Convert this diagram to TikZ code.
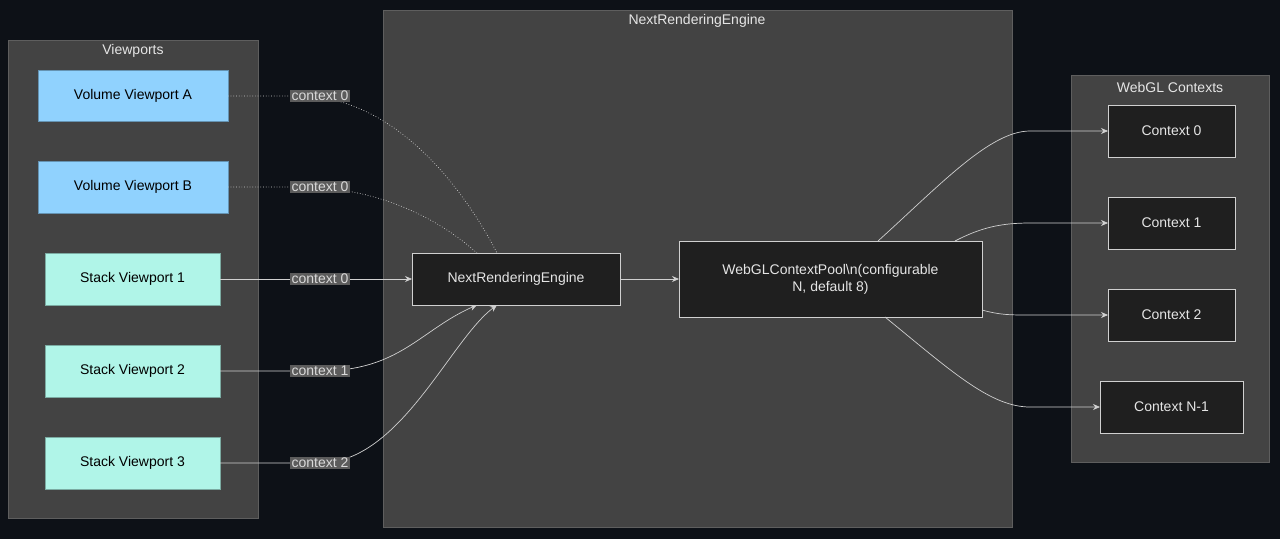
\documentclass[tikz,border=0pt]{standalone}
\usepackage{fontspec}
\setmainfont{Liberation Sans}
\usetikzlibrary{arrows.meta}
\definecolor{bg}{HTML}{0D1117}
\definecolor{clus}{HTML}{434343}
\definecolor{clusb}{HTML}{5E5E5E}
\definecolor{blu}{HTML}{90D2FE}
\definecolor{mint}{HTML}{B0F5E8}
\definecolor{dk}{HTML}{1F1F1F}
\definecolor{lbl}{HTML}{5C5C5C}
\definecolor{ln}{HTML}{D0D0D0}
\begin{document}
\begin{tikzpicture}[x=1pt,y=-1pt,font=\fontsize{14}{17}\selectfont,
 cl/.style={draw=clusb,fill=clus},
 vn/.style={draw=blu!70!black,fill=blu,text=black},
 sn/.style={draw=mint!70!black,fill=mint,text=black},
 dn/.style={draw=ln,fill=dk,text=white!90!black},
 tl/.style={text=white!90!black},
 el/.style={fill=lbl,text=white!85!black,inner sep=1.5pt,font=\fontsize{14}{15}\selectfont},
 ed/.style={draw=ln,line width=0.7pt},
 ar/.style={ed,-{Stealth[length=7pt,width=6pt]}}]
\fill[bg] (0,0) rectangle (1280,539);
\useasboundingbox (0,0) rectangle (1280,539);
\draw[cl] (8,40) rectangle (258,518);
\draw[cl] (383,10) rectangle (1012,527);
\draw[cl] (1071,75) rectangle (1269,462);
\node[tl] at (133,51) {Viewports};
\node[tl] at (697,21) {NextRenderingEngine};
\node[tl] at (1170,87) {WebGL Contexts};
\path[vn] (38,70) rectangle (228,121); \node[text=black] (va) at (133,95.5) {Volume Viewport A};
\path[vn] (38,161) rectangle (228,213); \node[text=black] (vb) at (133,187) {Volume Viewport B};
\path[sn] (45,253) rectangle (220,305); \node[text=black] (s1) at (132.5,279) {Stack Viewport 1};
\path[sn] (45,345) rectangle (220,397); \node[text=black] (s2) at (132.5,371) {Stack Viewport 2};
\path[sn] (45,437) rectangle (220,489); \node[text=black] (s3) at (132.5,463) {Stack Viewport 3};
\path[dn] (412,253) rectangle (620,305); \node[tl] (ne) at (516,279) {NextRenderingEngine};
\path[dn] (679,241) rectangle (982,317);
\node[tl,align=center] (pool) at (830.5,279) {WebGLContextPool\textbackslash n(configurable\\N, default 8)};
\path[dn] (1108,105) rectangle (1235,157); \node[tl] (c0) at (1171.5,131) {Context 0};
\path[dn] (1108,197) rectangle (1235,249); \node[tl] (c1) at (1171.5,223) {Context 1};
\path[dn] (1108,289) rectangle (1235,341); \node[tl] (c2) at (1171.5,315) {Context 2};
\path[dn] (1100,381) rectangle (1243,433); \node[tl] (cn) at (1171.5,407) {Context N-1};
\coordinate (vaR) at (228,96); \coordinate (vbR) at (228,187);
\coordinate (s1R) at (220,279); \coordinate (s2R) at (220,371); \coordinate (s3R) at (220,463);
\coordinate (neL) at (412,279); \coordinate (neT1) at (497,253); \coordinate (neT2) at (477,253);
\coordinate (neB1) at (477,305); \coordinate (neB2) at (497,305);
\draw[ed,dotted] (vaR) -- (300,96) .. controls (400,96) and (470,200) .. (neT1);
\draw[ed,dotted] (vbR) -- (300,187) .. controls (380,187) and (440,220) .. (neT2);
\draw[ar] (s1R) -- (neL);
\draw[ar] (s2R) -- (320,371) .. controls (400,371) and (420,330) .. (neB1);
\draw[ar] (s3R) -- (320,463) .. controls (400,463) and (450,340) .. (neB2);
\node[el] at (320,96) {context 0};
\node[el] at (320,187) {context 0};
\node[el] at (320,279) {context 0};
\node[el] at (320,371) {context 1};
\node[el] at (320,463) {context 2};
\coordinate (neR) at (620,279); \coordinate (poolL) at (679,279);
\draw[ar] (neR) -- (poolL);
\coordinate (p1) at (878,241); \coordinate (p2) at (955,241);
\coordinate (p3) at (982,310); \coordinate (p4) at (885,317);
\coordinate (c0L) at (1108,131); \coordinate (c1L) at (1108,223);
\coordinate (c2L) at (1108,315); \coordinate (cnL) at (1100,407);
\draw[ar] (p1) .. controls (940,185) and (990,131) .. (1030,131) -- (c0L);
\draw[ar] (p2) .. controls (980,228) and (1000,223) .. (1030,223) -- (c1L);
\draw[ar] (p3) .. controls (1000,315) and (1010,315) .. (1030,315) -- (c2L);
\draw[ar] (p4) .. controls (950,370) and (990,407) .. (1030,407) -- (cnL);
\end{tikzpicture}
\end{document}
